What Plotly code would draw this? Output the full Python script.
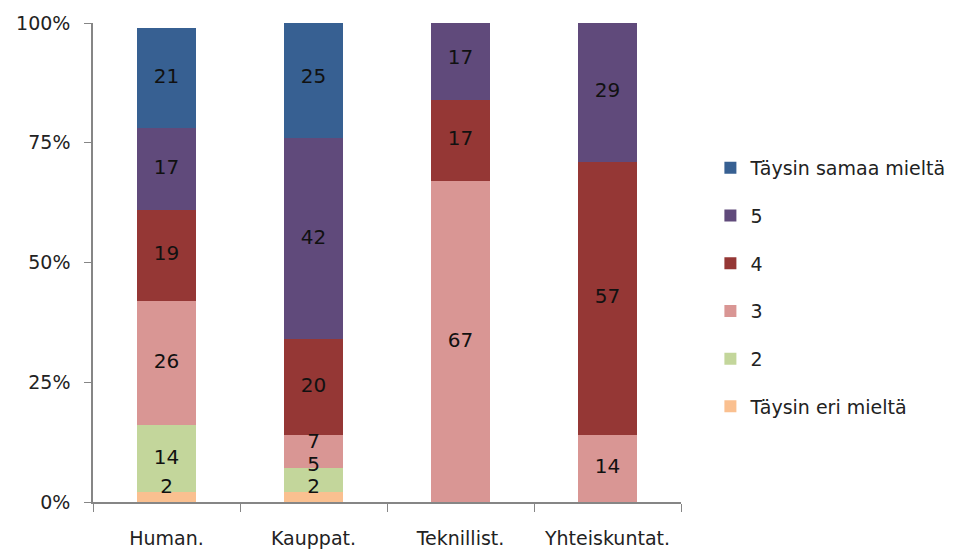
import plotly.graph_objects as go

categories = ["Human.", "Kauppat.", "Teknillist.", "Yhteiskuntat."]
series_names = ["Täysin eri mieltä", "2", "3", "4", "5", "Täysin samaa mieltä"]
v_eri = [2, 2, None, None]
v_2 = [14, 5, None, None]
v_3 = [26, 7, 67, 14]
v_4 = [19, 20, 17, 57]
v_5 = [17, 42, 17, 29]
v_samaa = [21, 25, None, None]
series_values = [v_eri, v_2, v_3, v_4, v_5, v_samaa]
colors = ["#FAC090", "#C3D69B", "#D99694", "#953735", "#604A7B", "#376092"]
y_ticks = [0, 25, 50, 75, 100]
y_tick_labels = ["0%", "25%", "50%", "75%", "100%"]

FONT = "DejaVu Sans"
FS = 19
LFS = 20

fig = go.Figure()
n = len(series_names)
for i, (name, vals, col) in enumerate(zip(series_names, series_values, colors)):
    fig.add_trace(go.Bar(
        x=categories, y=vals, name=name, marker_color=col,
        marker_line_width=0,
        legendgroup=f"g{i}", legendrank=n - i,
        hoverinfo="skip",
    ))

# data labels: centred in each segment, nudged apart where segments are thin
lab_x, lab_y, lab_t = [], [], []
MIN_FIRST = 2.9   # keep bottom label above the axis line
MIN_GAP = 4.7     # minimum separation between stacked labels (in % units)
for ci, cat in enumerate(categories):
    base = 0.0
    prev = None
    for vals in series_values:
        v = vals[ci]
        if v is None:
            continue
        c = base + v / 2.0
        c = max(c, MIN_FIRST) if prev is None else max(c, prev + MIN_GAP)
        lab_x.append(cat)
        lab_y.append(c)
        lab_t.append(str(v))
        base += v
        prev = c

fig.add_trace(go.Scatter(
    x=lab_x, y=lab_y, text=lab_t, mode="text",
    textposition="middle center",
    textfont=dict(family=FONT, size=LFS, color="#111"),
    showlegend=False, hoverinfo="skip",
))

fig.update_layout(
    barmode="stack",
    bargap=0.6,
    width=961, height=541,
    margin=dict(l=85, r=288, t=15, b=47),
    paper_bgcolor="white", plot_bgcolor="white",
    font=dict(family=FONT, size=FS, color="#222"),
    legend=dict(
        x=1.05, y=0.737, xanchor="left", yanchor="top",
        traceorder="grouped", tracegroupgap=20,
        font=dict(family=FONT, size=FS, color="#222"),
        itemwidth=30,
    ),
    showlegend=True,
)
fig.update_xaxes(
    automargin=False,
    showline=True, linecolor="#868686", linewidth=1.5,
    ticks="outside", tickson="boundaries", ticklen=8, tickcolor="#868686",
    ticklabelstandoff=18,
    tickfont=dict(family=FONT, size=FS, color="#222"),
    showgrid=False,
)
fig.update_yaxes(
    automargin=False,
    range=[0, 100], tickvals=y_ticks, ticktext=y_tick_labels,
    showline=True, linecolor="#868686", linewidth=1.5,
    ticks="outside", ticklen=7, tickcolor="#868686",
    ticklabelstandoff=10,
    tickfont=dict(family=FONT, size=FS, color="#222"),
    showgrid=False, zeroline=False,
)

fig.write_html("out.html")
